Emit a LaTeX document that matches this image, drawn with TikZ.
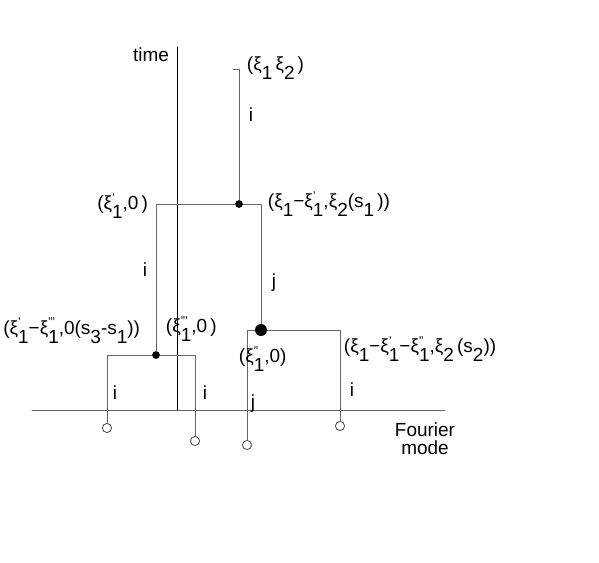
\documentclass[tikz,border=0pt]{standalone}
\usepackage{fontspec}
\setmainfont{Liberation Sans}
\newcommand{\lo}[1]{\raisebox{-0.9ex}{#1}}
\newcommand{\xs}[2]{ξ\rlap{\raisebox{0.75ex}{\small#2}}\lo{#1}}

\begin{document}
\begin{tikzpicture}[x=0.025cm, y=-0.025cm, font=\fontsize{13.5}{15}\selectfont, line join=round, line cap=round,
	tree/.style={black!60, line width=0.7pt},
	dot/.style={circle, fill=black, inner sep=0pt, minimum size=5.5pt},
	bigdot/.style={circle, fill=black, inner sep=0pt, minimum size=8.5pt},
	leaf/.style={circle, draw=black!70, fill=white, inner sep=0pt, minimum size=6.5pt, line width=0.6pt}]
	\useasboundingbox (0,0) rectangle (599,563);
	% axes
	\draw[black!60, line width=0.7pt] (32,410)--(445,410);
	\draw[line width=0.7pt] (177,47)--(177,410);
	\node at (151,55) {time};
	\node[align=center] at (425,439) {Fourier\\[-2pt]mode};
	% vertices
	\coordinate (top) at (239,69);
	\node[dot] (v1) at (239,204) {};
	\node[dot] (v2) at (156,355) {};
	\node[bigdot] (v3) at (261,330) {};
	\node[leaf] (l1) at (107,428) {};
	\node[leaf] (l2) at (195,441) {};
	\node[leaf] (l3) at (247,445) {};
	\node[leaf] (l4) at (340,426) {};
	% tree
	\draw[tree] (233,69)--(top)--(v1);
	\draw[tree] (v1) -| (v2);
	\draw[tree] (v1) -| (v3);
	\draw[tree] (v2) -| (l1);
	\draw[tree] (v2) -| (l2);
	\draw[tree] (v3) -| (l3);
	\draw[tree] (v3) -| (l4);
	% labels
	\node[anchor=west] at (242,68) {(\xs{1}{}\,\xs{2}{}\,)};
	\node at (251,115) {i};
	\node at (145,270) {i};
	\node at (274,283) {j};
	\node at (115,393) {i};
	\node at (205,393) {i};
	\node at (253,404) {j};
	\node at (352,390) {i};
	\node[anchor=east] at (153,206) {(\xs{1}{'},0\,)};
	\node[anchor=west] at (263,204) {(\xs{1}{}−\xs{1}{'},\xs{2}{}(s\lo{1}\,))};
	\node[anchor=east] at (145,331) {(\xs{1}{'}−\xs{1}{'''},0(s\lo{3}-s\lo{1}))};
	\node[anchor=west] at (161,329) {(\xs{1}{'''},0\,)};
	\node[anchor=west] at (234,359) {(\xs{1}{''},0)};
	\node[anchor=west] at (339,349) {(\xs{1}{}−\xs{1}{'}−\xs{1}{''},\xs{2}{}\,(s\lo{2}))};
\end{tikzpicture}
\end{document}
